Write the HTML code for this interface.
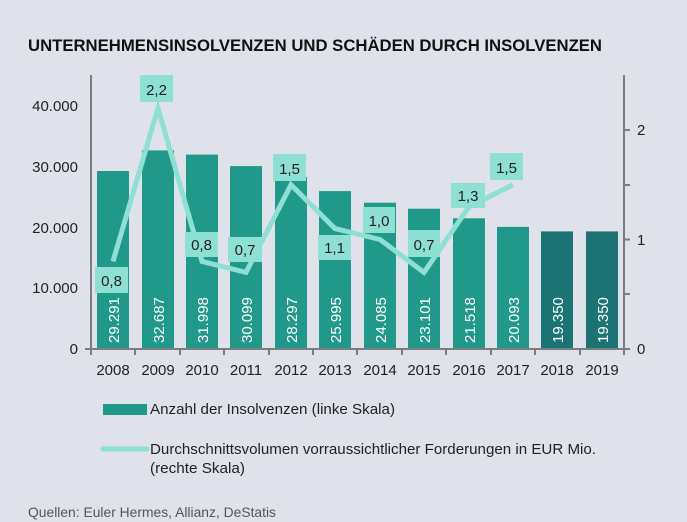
<!DOCTYPE html>
<html><head><meta charset="utf-8"><style>
html,body{margin:0;padding:0;background:#dfe2ea;}
svg{display:block;font-family:"Liberation Sans",sans-serif;}
</style></head><body>
<svg width="687" height="522" viewBox="0 0 687 522" xmlns="http://www.w3.org/2000/svg">
<rect width="687" height="522" fill="#dfe2ea"/>
<text x="28" y="51" font-size="17" font-weight="bold" fill="#111" textLength="574" lengthAdjust="spacingAndGlyphs">UNTERNEHMENSINSOLVENZEN UND SCHÄDEN DURCH INSOLVENZEN</text>
<g fill="#21998a">
<rect x="97" y="171" width="32" height="178"/>
<rect x="142" y="150.4" width="32" height="198.6"/>
<rect x="186" y="154.6" width="32" height="194.4"/>
<rect x="230" y="166.1" width="32" height="182.9"/>
<rect x="275" y="177.1" width="32" height="171.9"/>
<rect x="319" y="191.1" width="32" height="157.9"/>
<rect x="364" y="202.7" width="32" height="146.3"/>
<rect x="408" y="208.7" width="32" height="140.3"/>
<rect x="453" y="218.3" width="32" height="130.7"/>
<rect x="497" y="226.9" width="32" height="122.1"/>
<rect x="541" y="231.4" width="32" height="117.6" fill="#1b7473"/>
<rect x="586" y="231.4" width="32" height="117.6" fill="#1b7473"/>
</g>
<g fill="#fff" font-size="15">
<text transform="translate(119,343) rotate(-90)">29.291</text>
<text transform="translate(164,343) rotate(-90)">32.687</text>
<text transform="translate(208,343) rotate(-90)">31.998</text>
<text transform="translate(252,343) rotate(-90)">30.099</text>
<text transform="translate(297,343) rotate(-90)">28.297</text>
<text transform="translate(341,343) rotate(-90)">25.995</text>
<text transform="translate(386,343) rotate(-90)">24.085</text>
<text transform="translate(430,343) rotate(-90)">23.101</text>
<text transform="translate(475,343) rotate(-90)">21.518</text>
<text transform="translate(519,343) rotate(-90)">20.093</text>
<text transform="translate(563,343) rotate(-90)">19.350</text>
<text transform="translate(608,343) rotate(-90)">19.350</text>
</g>
<polyline points="113,261.4 158,108.1 202,261.4 246,272.4 291,184.8 335,228.6 380,239.5 424,272.4 469,206.7 513,184.8" fill="none" stroke="#8ee0d4" stroke-width="5" stroke-linejoin="miter"/>
<g fill="#8ee0d4">
<rect x="95" y="267" width="33" height="26"/>
<rect x="140" y="75" width="33" height="27"/>
<rect x="185" y="232" width="33" height="25"/>
<rect x="228" y="237" width="34" height="25"/>
<rect x="273" y="154" width="33" height="27"/>
<rect x="318" y="235" width="33" height="25"/>
<rect x="363" y="207" width="32" height="26"/>
<rect x="408" y="230" width="32" height="27"/>
<rect x="451" y="183" width="34" height="25"/>
<rect x="490" y="153" width="33" height="27"/>
</g>
<g fill="#222" font-size="15" text-anchor="middle">
<text x="111.5" y="286">0,8</text>
<text x="156.5" y="95">2,2</text>
<text x="201.5" y="250">0,8</text>
<text x="245" y="255">0,7</text>
<text x="289.5" y="174">1,5</text>
<text x="334.5" y="253">1,1</text>
<text x="379" y="226">1,0</text>
<text x="424" y="250">0,7</text>
<text x="468" y="201">1,3</text>
<text x="506.5" y="173">1,5</text>
</g>
<g stroke="#7a7d82" stroke-width="2" fill="none">
<line x1="91" y1="75" x2="91" y2="350"/>
<line x1="85" y1="349" x2="624" y2="349"/>
<line x1="624" y1="75" x2="624" y2="355"/>
<line x1="624" y1="130" x2="630" y2="130"/>
<line x1="624" y1="185" x2="630" y2="185"/>
<line x1="624" y1="239.5" x2="630" y2="239.5"/>
<line x1="624" y1="294" x2="630" y2="294"/>
<line x1="624" y1="349" x2="630" y2="349"/>
<line x1="91" y1="349" x2="91" y2="355"/>
<line x1="135" y1="349" x2="135" y2="355"/>
<line x1="180" y1="349" x2="180" y2="355"/>
<line x1="224" y1="349" x2="224" y2="355"/>
<line x1="269" y1="349" x2="269" y2="355"/>
<line x1="313" y1="349" x2="313" y2="355"/>
<line x1="357" y1="349" x2="357" y2="355"/>
<line x1="402" y1="349" x2="402" y2="355"/>
<line x1="446" y1="349" x2="446" y2="355"/>
<line x1="491" y1="349" x2="491" y2="355"/>
<line x1="535" y1="349" x2="535" y2="355"/>
<line x1="580" y1="349" x2="580" y2="355"/>
</g>
<g fill="#222" font-size="15" text-anchor="end">
<text x="78" y="111">40.000</text>
<text x="78" y="172">30.000</text>
<text x="78" y="233">20.000</text>
<text x="78" y="293">10.000</text>
<text x="78" y="354">0</text>
</g>
<g fill="#222" font-size="15">
<text x="637" y="135">2</text>
<text x="637" y="245">1</text>
<text x="637" y="354">0</text>
</g>
<g fill="#222" font-size="15" text-anchor="middle">
<text x="113" y="375">2008</text>
<text x="158" y="375">2009</text>
<text x="202" y="375">2010</text>
<text x="246" y="375">2011</text>
<text x="291" y="375">2012</text>
<text x="335" y="375">2013</text>
<text x="380" y="375">2014</text>
<text x="424" y="375">2015</text>
<text x="469" y="375">2016</text>
<text x="513" y="375">2017</text>
<text x="557" y="375">2018</text>
<text x="602" y="375">2019</text>
</g>
<rect x="103" y="404" width="44" height="11" fill="#21998a"/>
<text x="150" y="414" font-size="15" fill="#222" textLength="245" lengthAdjust="spacingAndGlyphs">Anzahl der Insolvenzen (linke Skala)</text>
<line x1="103" y1="449" x2="147" y2="449" stroke="#8ee0d4" stroke-width="5" stroke-linecap="round"/>
<text x="150" y="454" font-size="15" fill="#222" textLength="446" lengthAdjust="spacingAndGlyphs">Durchschnittsvolumen vorraussichtlicher Forderungen in EUR Mio.</text>
<text x="150" y="473" font-size="15" fill="#222" textLength="95" lengthAdjust="spacingAndGlyphs">(rechte Skala)</text>
<text x="28" y="517" font-size="14" fill="#555" textLength="248" lengthAdjust="spacingAndGlyphs">Quellen: Euler Hermes, Allianz, DeStatis</text>
</svg>
</body></html>
